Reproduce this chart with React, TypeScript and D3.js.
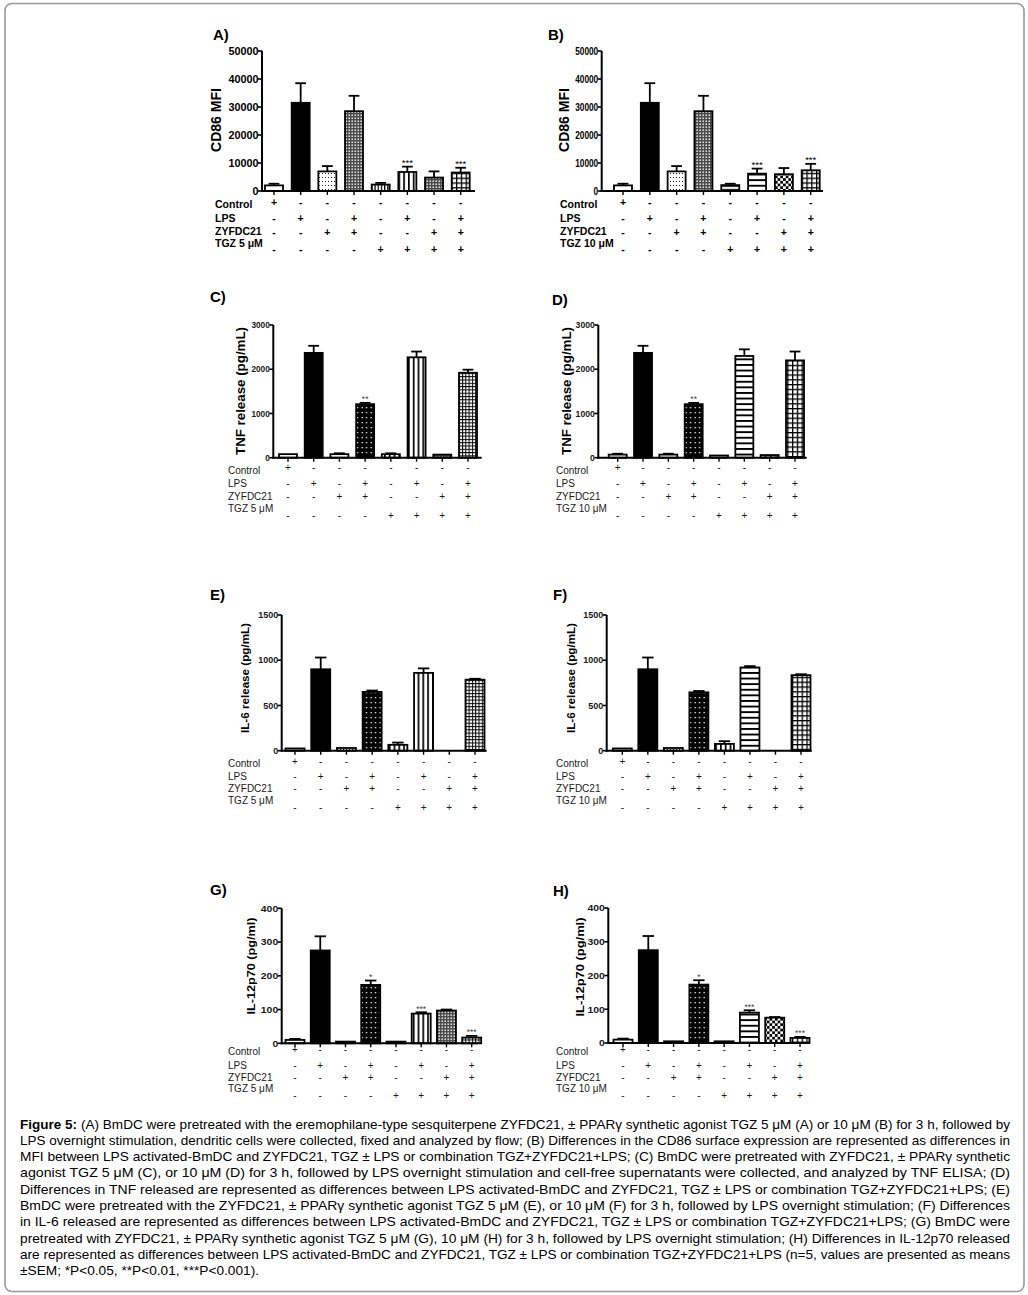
import React from "react";
import * as d3 from "d3";

// ---------------- DATA ----------------
const groups = ["Control", "LPS", "ZYFDC21", "ZYFDC21+LPS", "TGZ", "TGZ+LPS", "TGZ+ZYFDC21", "TGZ+ZYFDC21+LPS"];
const rowControl = ["+", "-", "-", "-", "-", "-", "-", "-"];
const rowLPS = ["-", "+", "-", "+", "-", "+", "-", "+"];
const rowZYF = ["-", "-", "+", "+", "-", "-", "+", "+"];
const rowTGZ = ["-", "-", "-", "-", "+", "+", "+", "+"];

const cd86_5 = [2000, 31500, 7000, 28500, 2300, 6800, 4800, 6600];
const cd86_5_sem = [600, 7000, 1900, 5500, 600, 1900, 2200, 1700];
const cd86_5_sig = ["", "", "", "", "", "***", "", "***"];

const cd86_10 = [2000, 31500, 7000, 28500, 2100, 6200, 6000, 7400];
const cd86_10_sem = [600, 7000, 1900, 5500, 500, 1800, 2200, 2300];
const cd86_10_sig = ["", "", "", "", "", "***", "", "***"];

const tnf_5 = [80, 2370, 80, 1210, 80, 2270, 70, 1920];
const tnf_5_sem = [0, 160, 20, 30, 20, 130, 0, 70];
const tnf_5_sig = ["", "", "", "**", "", "", "", ""];

const tnf_10 = [70, 2370, 70, 1210, 50, 2300, 60, 2200];
const tnf_10_sem = [20, 160, 20, 30, 0, 150, 0, 200];
const tnf_10_sig = ["", "", "", "**", "", "", "", ""];

const il6_5 = [25, 900, 30, 650, 65, 860, 0, 785];
const il6_5_sem = [0, 130, 0, 15, 25, 50, 0, 10];
const il6_5_sig = ["", "", "", "", "", "", "", ""];

const il6_10 = [25, 900, 30, 645, 75, 920, 0, 835];
const il6_10_sem = [0, 130, 0, 15, 30, 15, 0, 10];
const il6_10_sig = ["", "", "", "", "", "", "", ""];

const il12_5 = [10, 275, 5, 173, 5, 88, 97, 17];
const il12_5_sem = [3, 42, 0, 13, 0, 4, 3, 5];
const il12_5_sig = ["", "", "", "*", "", "***", "", "***"];

const il12_10 = [10, 275, 5, 173, 5, 90, 75, 15];
const il12_10_sem = [3, 42, 0, 13, 0, 7, 2, 3];
const il12_10_sig = ["", "", "", "*", "", "***", "", "***"];

const ticksCD86 = [0, 10000, 20000, 30000, 40000, 50000];
const ticksTNF = [0, 1000, 2000, 3000];
const ticksIL6 = [0, 500, 1000, 1500];
const ticksIL12 = [0, 100, 200, 300, 400];

const captionLines = [
  "(A) BmDC were pretreated with the eremophilane-type sesquiterpene ZYFDC21, ± PPARγ synthetic agonist TGZ 5 μM (A) or 10 μM (B) for 3 h, followed by",
  "LPS overnight stimulation, dendritic cells were collected, fixed and analyzed by flow; (B) Differences in the CD86 surface expression are represented as differences in",
  "MFI between LPS activated-BmDC and ZYFDC21, TGZ ± LPS or combination TGZ+ZYFDC21+LPS; (C) BmDC were pretreated with ZYFDC21, ± PPARγ synthetic",
  "agonist TGZ 5 μM (C), or 10 μM (D) for 3 h, followed by LPS overnight stimulation and cell-free supernatants were collected, and analyzed by TNF ELISA; (D)",
  "Differences in TNF released are represented as differences between LPS activated-BmDC and ZYFDC21, TGZ ± LPS or combination TGZ+ZYFDC21+LPS; (E)",
  "BmDC were pretreated with the ZYFDC21, ± PPARγ synthetic agonist TGZ 5 μM (E), or 10 μM (F) for 3 h, followed by LPS overnight stimulation; (F) Differences",
  "in IL-6 released are represented as differences between LPS activated-BmDC and ZYFDC21, TGZ ± LPS or combination TGZ+ZYFDC21+LPS; (G) BmDC were",
  "pretreated with ZYFDC21, ± PPARγ synthetic agonist TGZ 5 μM (G), 10 μM (H) for 3 h, followed by LPS overnight stimulation; (H) Differences in IL-12p70 released",
  "are represented as differences between LPS activated-BmDC and ZYFDC21, TGZ ± LPS or combination TGZ+ZYFDC21+LPS (n=5, values are presented as means",
  "±SEM; *P<0.05, **P<0.01, ***P<0.001).",
];

// ---------------- LAYOUT ----------------
const FONT = "'Liberation Sans', Arial, Helvetica, sans-serif";

type Panel = {
  id: string;
  letter: string;
  letterX: number;
  letterY: number;
  axisX: number;
  axisEnd: number;
  y0: number;
  yTop: number;
  yMax: number;
  ticks: number[];
  first: number;
  last: number;
  barW: number;
  values: number[];
  sems: number[];
  sig: string[];
  patterns: string[];
  yLabel: string;
  yLabelX: number;
  yLabelY: number;
  yLabelSize: number;
  yLabelLen: number;
  tickSize: number;
  digitW: number;
  rowX: number;
  labelYs: number[];
  signYs: number[];
  tgz: string;
  bold: boolean;
};

const rowsAB = { labelYs: [208, 222, 235, 247], signYs: [206, 222, 236, 253] };
const rowsCD = { labelYs: [474, 487, 500, 512], signYs: [471, 487, 500, 519] };
const rowsEF = { labelYs: [767, 780, 792, 804], signYs: [765, 780, 792, 811] };
const rowsGH = { labelYs: [1055, 1069, 1081, 1092], signYs: [1053, 1069, 1081, 1099] };

const panels: Panel[] = [
  {
    id: "A", letter: "A)", letterX: 213, letterY: 40, axisX: 262, axisEnd: 475, y0: 191, yTop: 51, yMax: 50000,
    ticks: ticksCD86, first: 274, last: 460.7, barW: 18, values: cd86_5, sems: cd86_5_sem, sig: cd86_5_sig,
    patterns: ["white", "black", "dots", "grayFine", "vstripeN", "vstripe", "grayFine", "grid"],
    yLabel: "CD86 MFI", yLabelX: 216, yLabelY: 120, yLabelSize: 14, yLabelLen: 64, tickSize: 10.5, digitW: 6.0,
    rowX: 215, ...rowsAB, tgz: "TGZ 5 μM", bold: true,
  },
  {
    id: "B", letter: "B)", letterX: 548, letterY: 40, axisX: 601.7, axisEnd: 823, y0: 191, yTop: 51, yMax: 50000,
    ticks: ticksCD86, first: 623, last: 810.7, barW: 18, values: cd86_10, sems: cd86_10_sem, sig: cd86_10_sig,
    patterns: ["white", "black", "dots", "grayFine", "hstripeN", "hstripe", "checker", "grid"],
    yLabel: "CD86 MFI", yLabelX: 564, yLabelY: 120, yLabelSize: 14, yLabelLen: 64, tickSize: 10.5, digitW: 4.6,
    rowX: 560, ...rowsAB, tgz: "TGZ 10 μM", bold: true,
  },
  {
    id: "C", letter: "C)", letterX: 210, letterY: 302, axisX: 273.3, axisEnd: 481.7, y0: 457.7, yTop: 325, yMax: 3000,
    ticks: ticksTNF, first: 288, last: 468, barW: 18, values: tnf_5, sems: tnf_5_sem, sig: tnf_5_sig,
    patterns: ["white", "black", "dots", "blackDots", "vstripe", "vstripe", "grayFine", "gridFine"],
    yLabel: "TNF release (pg/mL)", yLabelX: 241, yLabelY: 391, yLabelSize: 12.5, yLabelLen: 128, tickSize: 9, digitW: 4.6,
    rowX: 228, ...rowsCD, tgz: "TGZ 5 μM", bold: false,
  },
  {
    id: "D", letter: "D)", letterX: 552, letterY: 305, axisX: 598.3, axisEnd: 806.7, y0: 457.7, yTop: 325, yMax: 3000,
    ticks: ticksTNF, first: 617.7, last: 795, barW: 18, values: tnf_10, sems: tnf_10_sem, sig: tnf_10_sig,
    patterns: ["white", "black", "dots", "blackDots", "hstripe", "hstripe", "checker", "grid"],
    yLabel: "TNF release (pg/mL)", yLabelX: 567, yLabelY: 391, yLabelSize: 12.5, yLabelLen: 128, tickSize: 9, digitW: 4.8,
    rowX: 556, ...rowsCD, tgz: "TGZ 10 μM", bold: false,
  },
  {
    id: "E", letter: "E)", letterX: 210, letterY: 600, axisX: 281.7, axisEnd: 486.7, y0: 750.7, yTop: 615, yMax: 1500,
    ticks: ticksIL6, first: 295, last: 475, barW: 19, values: il6_5, sems: il6_5_sem, sig: il6_5_sig,
    patterns: ["white", "black", "dots", "blackDots", "vstripe", "vstripe", "grayFine", "gridFine"],
    yLabel: "IL-6 release (pg/mL)", yLabelX: 245, yLabelY: 678, yLabelSize: 10.5, yLabelLen: 110, tickSize: 9, digitW: 5,
    rowX: 228, ...rowsEF, tgz: "TGZ 5 μM", bold: false,
  },
  {
    id: "F", letter: "F)", letterX: 553, letterY: 600, axisX: 606.7, axisEnd: 811.7, y0: 750.7, yTop: 615, yMax: 1500,
    ticks: ticksIL6, first: 622.3, last: 801, barW: 19, values: il6_10, sems: il6_10_sem, sig: il6_10_sig,
    patterns: ["white", "black", "dots", "blackDots", "vstripe", "hstripe", "checker", "grid"],
    yLabel: "IL-6 release (pg/mL)", yLabelX: 571, yLabelY: 678, yLabelSize: 10.5, yLabelLen: 110, tickSize: 9, digitW: 5,
    rowX: 556, ...rowsEF, tgz: "TGZ 10 μM", bold: false,
  },
  {
    id: "G", letter: "G)", letterX: 210, letterY: 895, axisX: 281.7, axisEnd: 478, y0: 1043.3, yTop: 908.3, yMax: 400,
    ticks: ticksIL12, first: 295, last: 471.7, barW: 19, values: il12_5, sems: il12_5_sem, sig: il12_5_sig,
    patterns: ["white", "black", "dots", "blackDots", "vstripe", "vstripe", "grayFine", "gridFine"],
    yLabel: "IL-12p70 (pg/ml)", yLabelX: 251, yLabelY: 966, yLabelSize: 10.5, yLabelLen: 97, tickSize: 9.5, digitW: 5.8,
    rowX: 228, ...rowsGH, tgz: "TGZ 5 μM", bold: false,
  },
  {
    id: "H", letter: "H)", letterX: 553, letterY: 896, axisX: 608.3, axisEnd: 810, y0: 1043, yTop: 908, yMax: 400,
    ticks: ticksIL12, first: 623, last: 800, barW: 19, values: il12_10, sems: il12_10_sem, sig: il12_10_sig,
    patterns: ["white", "black", "dots", "blackDots", "vstripe", "hstripe", "checker", "grid"],
    yLabel: "IL-12p70 (pg/ml)", yLabelX: 579.5, yLabelY: 967, yLabelSize: 10.5, yLabelLen: 99, tickSize: 9.5, digitW: 5.8,
    rowX: 556, ...rowsGH, tgz: "TGZ 10 μM", bold: false,
  },
];

function Patterns({ pid }: { pid: string }) {
  const u = "userSpaceOnUse";
  return (
    <>
      <pattern id={`${pid}-dots`} patternUnits={u} width={3} height={4}>
        <rect width={3} height={4} fill="#fff" />
        <rect x={1} y={1} width={1} height={1} fill="#222" />
      </pattern>
      <pattern id={`${pid}-grayFine`} patternUnits={u} width={3} height={3}>
        <rect width={3} height={3} fill="#4a4a4a" />
        <rect x={0.5} y={0.5} width={1.4} height={1.4} fill="#fff" />
      </pattern>
      <pattern id={`${pid}-blackDots`} patternUnits={u} width={4.5} height={5}>
        <rect width={4.5} height={5} fill="#000" />
        <rect x={1.5} y={2} width={1.3} height={1.3} fill="#fff" />
      </pattern>
      <pattern id={`${pid}-vstripe`} patternUnits={u} width={4.8} height={4}>
        <rect width={4.8} height={4} fill="#fff" />
        <rect x={0} y={0} width={1.7} height={4} fill="#000" />
      </pattern>
      <pattern id={`${pid}-vstripeN`} patternUnits={u} width={3.2} height={4}>
        <rect width={3.2} height={4} fill="#fff" />
        <rect x={0} y={0} width={1.3} height={4} fill="#000" />
      </pattern>
      <pattern id={`${pid}-hstripe`} patternUnits={u} width={4} height={5.6}>
        <rect width={4} height={5.6} fill="#fff" />
        <rect x={0} y={0} width={4} height={1.9} fill="#000" />
      </pattern>
      <pattern id={`${pid}-hstripeN`} patternUnits={u} width={4} height={3.2}>
        <rect width={4} height={3.2} fill="#fff" />
        <rect x={0} y={0} width={4} height={1.3} fill="#000" />
      </pattern>
      <pattern id={`${pid}-grid`} patternUnits={u} width={4.8} height={4.8}>
        <rect width={4.8} height={4.8} fill="#fff" />
        <rect x={0} y={0} width={4.8} height={1.3} fill="#000" />
        <rect x={0} y={0} width={1.3} height={4.8} fill="#000" />
      </pattern>
      <pattern id={`${pid}-gridFine`} patternUnits={u} width={3.3} height={3.3}>
        <rect width={3.3} height={3.3} fill="#fff" />
        <rect x={0} y={0} width={3.3} height={1} fill="#000" />
        <rect x={0} y={0} width={1} height={3.3} fill="#000" />
      </pattern>
      <pattern id={`${pid}-checker`} patternUnits={u} width={5.4} height={5.4}>
        <rect width={5.4} height={5.4} fill="#fff" />
        <rect x={0} y={0} width={2.7} height={2.7} fill="#000" />
        <rect x={2.7} y={2.7} width={2.7} height={2.7} fill="#000" />
      </pattern>
    </>
  );
}

function fillFor(pid: string, name: string) {
  if (name === "white") return "#fff";
  if (name === "black") return "#000";
  return `url(#${pid}-${name})`;
}

function PanelChart({ p }: { p: Panel }) {
  const ys = d3.scaleLinear().domain([0, p.yMax]).range([p.y0, p.yTop]);
  const xs = d3.scalePoint<number>().domain(d3.range(groups.length)).range([p.first, p.last]);
  const rows = [rowControl, rowLPS, rowZYF, rowTGZ];
  const rowNames = ["Control", "LPS", "ZYFDC21", p.tgz];
  const rowFont = p.bold ? 10.5 : 10;
  const weight = p.bold ? "bold" : "normal";
  const textFill = p.bold ? "#000" : "#1a1a1a";
  const capW = p.barW * 0.6;
  return (
    <g>
      <defs>
        <Patterns pid={p.id} />
      </defs>
      <text x={p.letterX} y={p.letterY} fontFamily={FONT} fontWeight="bold" fontSize={15}>
        {p.letter}
      </text>
      <text
        transform={`translate(${p.yLabelX},${p.yLabelY}) rotate(-90)`}
        textAnchor="middle"
        dominantBaseline="central"
        fontFamily={FONT}
        fontWeight="bold"
        fontSize={p.yLabelSize}
        textLength={p.yLabelLen}
        lengthAdjust="spacingAndGlyphs"
      >
        {p.yLabel}
      </text>
      {p.values.map((v, i) => {
        if (v <= 0) return null;
        const cx = xs(i) as number;
        const top = ys(v);
        return (
          <rect
            key={`b${i}`}
            x={cx - p.barW / 2}
            y={top}
            width={p.barW}
            height={p.y0 - top}
            fill={fillFor(p.id, p.patterns[i])}
            stroke="#000"
            strokeWidth={1.8}
          />
        );
      })}
      {p.values.map((v, i) => {
        const s = p.sems[i];
        if (v <= 0 || s <= 0) return null;
        const cx = xs(i) as number;
        const t = ys(v + s);
        return (
          <g key={`e${i}`} stroke="#000" strokeWidth={1.8}>
            <line x1={cx} x2={cx} y1={ys(v)} y2={t} />
            <line x1={cx - capW / 2} x2={cx + capW / 2} y1={t} y2={t} />
          </g>
        );
      })}
      {p.sig.map((s, i) => {
        if (!s) return null;
        const cx = xs(i) as number;
        const t = ys(p.values[i] + p.sems[i]);
        return (
          <text
            key={`s${i}`}
            x={cx}
            y={t - 0.5}
            textAnchor="middle"
            fontFamily={FONT}
            fontSize={p.bold ? 9.5 : 8.5}
            fill={p.bold ? "#000" : "#444"}
          >
            {s}
          </text>
        );
      })}
      <line x1={p.axisX} x2={p.axisX} y1={p.yTop} y2={p.y0 + 1} stroke="#000" strokeWidth={2} />
      <line x1={p.axisX - 1} x2={p.axisEnd} y1={p.y0} y2={p.y0} stroke="#000" strokeWidth={2} />
      {p.ticks.map((t) => {
        const label = String(t);
        return (
          <g key={`t${t}`}>
            <line x1={p.axisX - 4} x2={p.axisX} y1={ys(t)} y2={ys(t)} stroke="#000" strokeWidth={1.6} />
            <text
              x={p.axisX - 3.5}
              y={ys(t)}
              dy="0.35em"
              textAnchor="end"
              fontFamily={FONT}
              fontWeight="bold"
              fontSize={p.tickSize}
              fill={textFill}
              textLength={label.length * p.digitW}
              lengthAdjust="spacingAndGlyphs"
            >
              {label}
            </text>
          </g>
        );
      })}
      {groups.map((g, i) => (
        <line
          key={`xt${i}`}
          x1={xs(i) as number}
          x2={xs(i) as number}
          y1={p.y0}
          y2={p.y0 + 4}
          stroke="#000"
          strokeWidth={1.4}
        />
      ))}
      {rowNames.map((n, r) => (
        <text
          key={`rn${r}`}
          x={p.rowX}
          y={p.labelYs[r]}
          fontFamily={FONT}
          fontWeight={weight}
          fontSize={rowFont}
          fill={textFill}
        >
          {n}
        </text>
      ))}
      {rows.map((row, r) =>
        row.map((s, i) => (
          <text
            key={`sg${r}-${i}`}
            x={xs(i) as number}
            y={p.signYs[r]}
            textAnchor="middle"
            fontFamily={FONT}
            fontWeight={weight}
            fontSize={rowFont}
            fill={textFill}
          >
            {s}
          </text>
        ))
      )}
    </g>
  );
}

export default function App() {
  const baseY = 1128.5;
  const lh = 16.3;
  return (
    <svg
      width={1028}
      height={1295}
      style={{ position: "absolute", left: 0, top: 0, background: "#fff" }}
    >
      <rect x={0} y={0} width={1028} height={1295} fill="#fff" />
      <rect x={5} y={3.5} width={1019} height={1288} rx={7} ry={7} fill="none" stroke="#999" strokeWidth={1.6} />
      {panels.map((p) => (
        <PanelChart key={p.id} p={p} />
      ))}
      <text x={20} y={baseY} fontFamily={FONT} fontWeight="bold" fontSize={13.5} textLength={57} lengthAdjust="spacingAndGlyphs">
        Figure 5:
      </text>
      {captionLines.map((line, i) => {
        const isFirst = i === 0;
        const isLast = i === captionLines.length - 1;
        const x = isFirst ? 81 : 20;
        const len = isLast ? 239 : 1010 - x;
        return (
          <text
            key={`c${i}`}
            x={x}
            y={baseY + i * lh}
            fontFamily={FONT}
            fontSize={13.5}
            textLength={len}
            lengthAdjust="spacingAndGlyphs"
          >
            {line}
          </text>
        );
      })}
    </svg>
  );
}
